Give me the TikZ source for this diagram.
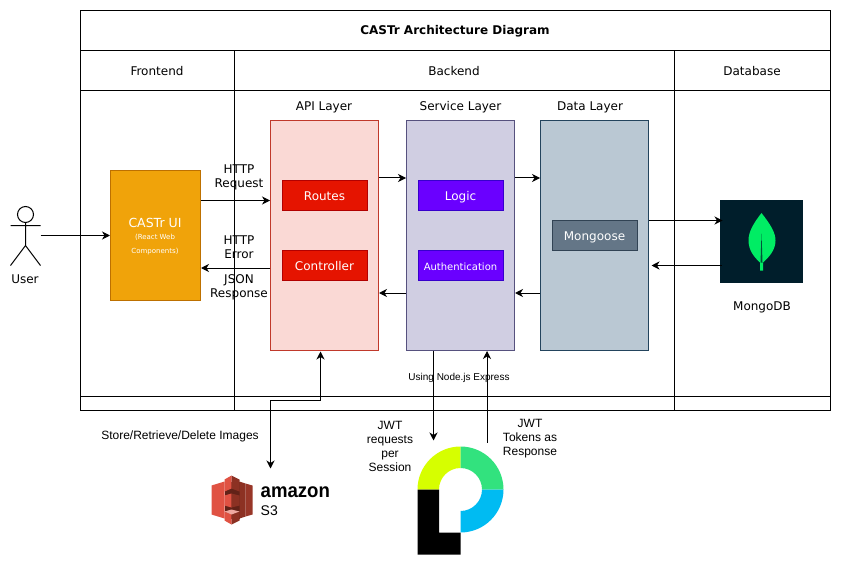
\documentclass[tikz,border=0pt]{standalone}
\usepackage{xcolor}
\usepackage{fontspec}
\setmainfont{DejaVu Sans}
\newfontfamily\helvfont{Liberation Sans}
\usetikzlibrary{arrows.meta}
\definecolor{uifill}{HTML}{F0A30A}
\definecolor{uiline}{HTML}{BD7000}
\definecolor{apifill}{HTML}{FAD9D5}
\definecolor{apiline}{HTML}{C0392B}
\definecolor{svcfill}{HTML}{D0CEE2}
\definecolor{svcline}{HTML}{56517E}
\definecolor{datafill}{HTML}{BAC8D3}
\definecolor{dataline}{HTML}{23445D}
\definecolor{redfill}{HTML}{E51400}
\definecolor{redline}{HTML}{B20000}
\definecolor{purplefill}{HTML}{6A00FF}
\definecolor{purpleline}{HTML}{3700CC}
\definecolor{slatefill}{HTML}{647687}
\definecolor{slateline}{HTML}{314354}
\definecolor{mongobg}{HTML}{001E2B}
\definecolor{mongoleaf}{HTML}{00ED64}
\definecolor{jwtyellow}{HTML}{D6FF00}
\definecolor{jwtgreen}{HTML}{32E27E}
\definecolor{jwtblue}{HTML}{00BBF2}
\definecolor{sthreelight}{HTML}{E05243}
\definecolor{sthreedark}{HTML}{8C3123}
\tikzset{
  x=1pt, y=-1pt,
  every node/.style={font=\fontsize{12}{14}\selectfont, align=center, inner sep=0pt},
  layerbox/.style={draw=#1, line width=1pt, minimum width=108pt, minimum height=230pt},
  innerbox/.style={text=white, line width=1pt, minimum width=85pt, minimum height=30pt, text height=12pt, text depth=2pt},
  conn/.style={line width=1pt, -{Stealth[length=8pt,width=8pt,inset=2.5pt]}},
  biconn/.style={line width=1pt, {Stealth[length=8pt,width=8pt,inset=2.5pt]}-{Stealth[length=8pt,width=8pt,inset=2.5pt]}},
  frameline/.style={line width=1pt}
}
\begin{document}
\begin{tikzpicture}
\useasboundingbox (-0.5,-0.5) rectangle (847.5,571.5);
% table frame
\draw[frameline] (80,10) rectangle (830,410);
\draw[frameline] (80,50) -- (830,50);
\draw[frameline] (80,90) -- (830,90);
\draw[frameline] (80,396) -- (830,396);
\draw[frameline] (234,50) -- (234,410);
\draw[frameline] (674,50) -- (674,410);
\node[font=\fontsize{12}{14}\selectfont\bfseries] (title) at (454.5,30.5) {CASTr Architecture Diagram};
\node (frontend) at (156.5,71) {Frontend};
\node (backend) at (453.5,71) {Backend};
\node (database) at (751.5,71) {Database};
% user
\draw[frameline] (25,214) circle (8);
\draw[frameline] (25,222) -- (25,245) (10,225) -- (40,225) (10,265) -- (25,245) -- (40,265);
\coordinate (user) at (40,235);
\node (userlabel) at (24.5,278.5) {User};
% layers
\node[draw=uiline, fill=uifill, line width=1pt, minimum width=90pt, minimum height=130pt, text=white] (ui) at (155,235) {};
\node[text=white, font=\fontsize{12.5}{14}\selectfont] (uititle) at (154.5,222) {CASTr UI};
\node[text=white, font=\fontsize{7}{14}\selectfont] (uisub) at (154.5,244.5) {(React Web\\Components)};
\node[layerbox=apiline, fill=apifill] (api) at (324,235) {};
\node[layerbox=svcline, fill=svcfill] (service) at (460,235) {};
\node[layerbox=dataline, fill=datafill] (data) at (594,235) {};
\node (apilabel) at (323.5,106.5) {API Layer};
\node (servicelabel) at (460,106.5) {Service Layer};
\node (datalabel) at (589.5,106.5) {Data Layer};
\node[innerbox, draw=redline, fill=redfill] (routes) at (324,195) {Routes};
\node[innerbox, draw=redline, fill=redfill] (controller) at (324,265) {Controller};
\node[innerbox, draw=purpleline, fill=purplefill] (logic) at (460,195) {Logic};
\node[innerbox, draw=purpleline, fill=purplefill, font=\fontsize{10}{12}\selectfont] (auth) at (460,265) {Authentication};
\node[innerbox, draw=slateline, fill=slatefill] (mongoose) at (594,235) {Mongoose};
% mongo
\node[fill=mongobg, minimum size=83pt] (mongo) at (761,241) {};
\fill[mongoleaf] (761,212.5) .. controls (752,224) and (748,232) .. (748,240) .. controls (748,250) and (754,257) .. (759.5,262) -- (759.5,270) -- (762.5,270) -- (762.5,262) .. controls (768,257) and (775,250) .. (775,240) .. controls (775,232) and (770,224) .. (761,212.5) -- cycle;
\fill[mongobg!75!mongoleaf] (761,233) -- (760,262) -- (762,262) -- cycle;
\node (mongolabel) at (761.5,306.5) {MongoDB};
% s3 logo
\coordinate (sthree) at (270,468);
\fill[sthreedark!70!black] (224,481) rectangle (239,518);
\fill[sthreelight] (211,485) -- (224,481) -- (224,518) -- (211,514) -- cycle;
\fill[sthreedark] (239,481) -- (245,483) -- (245,516) -- (239,518) -- cycle;
\fill[sthreedark!85!sthreelight] (245,483) -- (252,485) -- (252,514) -- (245,516) -- cycle;
\fill[sthreelight] (224,479) -- (231,475) -- (231,488) -- (224,491) -- cycle;
\fill[sthreedark] (231,475) -- (239,479) -- (239,491) -- (231,488) -- cycle;
\fill[sthreelight] (224,495) -- (231,493) -- (231,507) -- (224,505) -- cycle;
\fill[sthreedark] (231,493) -- (239,495) -- (239,505) -- (231,507) -- cycle;
\fill[sthreelight] (224,511) -- (231,514) -- (231,524) -- (224,520) -- cycle;
\fill[sthreedark] (231,514) -- (239,511) -- (239,520) -- (231,524) -- cycle;
\fill[sthreelight!50!white] (224,511) -- (231,509) -- (239,511) -- (231,514) -- cycle;
\node[anchor=west, xscale=0.93, transform shape, font=\helvfont\bfseries\fontsize{20}{20}\selectfont] (amazon) at (260,492) {amazon};
\node[anchor=west, font=\helvfont\fontsize{14}{14}\selectfont] (sthreelabel) at (260,510) {S3};
% jwt logo
\coordinate (jwtin) at (433,440);
\coordinate (jwtout) at (486.5,442);
\fill[jwtyellow] (417,489) arc[start angle=180, end angle=90, radius=43pt] -- (460,467.5) arc[start angle=90, end angle=180, radius=21.5pt] -- cycle;
\fill[jwtgreen] (460,446) arc[start angle=90, end angle=0, radius=43pt] -- (481.5,489) arc[start angle=0, end angle=90, radius=21.5pt] -- cycle;
\fill[jwtblue] (503,489) arc[start angle=0, end angle=-90, radius=43pt] -- (460,510.5) arc[start angle=-90, end angle=0, radius=21.5pt] -- cycle;
\fill[black] (417,489) -- (438.5,489) -- (438.5,532) -- (460,532) -- (460,554) -- (417,554) -- cycle;
% connectors
\draw[conn] (user) -- (ui.west |- user);
\draw[conn] (ui.east |- 0,200) -- (api.west |- 0,200);
\draw[conn] (api.west |- 0,267.5) -- (ui.east |- 0,267.5);
\draw[conn] (api.east |- 0,177.5) -- (service.west |- 0,177.5);
\draw[conn] (service.east |- 0,177.5) -- (data.west |- 0,177.5);
\draw[conn] (service.west |- 0,292.5) -- (api.east |- 0,292.5);
\draw[conn] (data.west |- 0,292.5) -- (service.east |- 0,292.5);
\draw[conn] (data.east |- 0,220) -- (722,220) coordinate (mongoin);
\draw[conn] (mongo.west |- 0,265) ++(2,0) -- (651,265);
\draw[biconn] (320,351) |- (270,400) -- (sthree);
\draw[conn] (service.south -| jwtin) -- (jwtin);
\draw[conn] (jwtout) -- (service.south -| jwtout);
% labels
\node (lblrequest) at (238.5,176.5) {HTTP\\Request};
\node (lblerror) at (238.5,246.5) {HTTP\\Error};
\node (lbljson) at (238.5,286.5) {JSON\\Response};
\node[font=\helvfont\fontsize{10}{12}\selectfont] (lblexpress) at (458.5,377) {Using Node.js Express};
\node[font=\helvfont\fontsize{12}{14}\selectfont] (lblstore) at (179.5,436) {Store/Retrieve/Delete Images};
\node[font=\helvfont\fontsize{12}{14}\selectfont] (lblreq) at (389.5,446) {JWT\\requests\\per\\Session};
\node[font=\helvfont\fontsize{12}{14}\selectfont] (lbltok) at (529.5,438) {JWT\\Tokens as\\Response};
\end{tikzpicture}
\end{document}
